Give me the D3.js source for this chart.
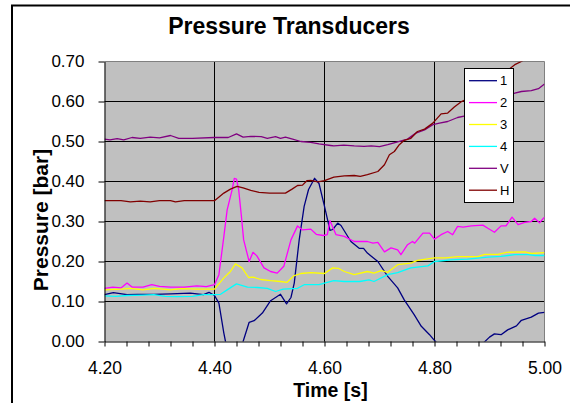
<!DOCTYPE html>
<html>
<head>
<meta charset="utf-8">
<script src="https://cdn.jsdelivr.net/npm/d3@7/dist/d3.min.js"></script>
<style>
  html, body { margin: 0; padding: 0; background: #fff; }
  svg { display: block; font-family: Arial, "Liberation Sans", sans-serif; }
</style>
</head>
<body>
<svg id="chart" width="570" height="403"></svg>
<script>
// Pressure readings (bar) against time (s) for each transducer
const seriesNames = ["1", "2", "3", "4", "V", "H"];
const seriesColors = ["#000080", "#FF00FF", "#FFFF00", "#00FFFF", "#800080", "#800000"];

const t1 = [4.200,4.216,4.241,4.260,4.290,4.320,4.356,4.380,4.390,4.400,4.408,4.417,4.420,4.430,4.440,4.452,4.463,4.472,4.487,4.502,4.520,4.531,4.539,4.545,4.554,4.563,4.571,4.582,4.590,4.600,4.610,4.615,4.624,4.630,4.648,4.663,4.671,4.678,4.697,4.715,4.733,4.745,4.763,4.776,4.791,4.799,4.802,4.830,4.860,4.888,4.900,4.909,4.921,4.933,4.949,4.958,4.976,4.989,5.000];
const p1 = [0.117,0.122,0.117,0.118,0.118,0.119,0.121,0.117,0.123,0.115,0.096,0.021,0.000,-0.040,-0.045,0.000,0.048,0.052,0.071,0.102,0.118,0.094,0.110,0.146,0.254,0.338,0.380,0.408,0.395,0.338,0.278,0.280,0.296,0.290,0.250,0.233,0.233,0.221,0.200,0.163,0.134,0.104,0.067,0.038,0.017,0.004,0.000,-0.050,-0.050,-0.005,0.011,0.019,0.017,0.029,0.039,0.053,0.061,0.071,0.073];

const t2 = [4.200,4.215,4.230,4.241,4.250,4.270,4.286,4.300,4.320,4.345,4.368,4.385,4.400,4.408,4.417,4.423,4.432,4.436,4.440,4.444,4.449,4.453,4.463,4.470,4.477,4.490,4.502,4.514,4.526,4.539,4.551,4.560,4.575,4.585,4.598,4.605,4.610,4.621,4.636,4.654,4.678,4.688,4.697,4.709,4.721,4.733,4.739,4.751,4.760,4.764,4.779,4.791,4.800,4.812,4.824,4.833,4.842,4.852,4.867,4.888,4.897,4.909,4.921,4.930,4.941,4.952,4.964,4.976,4.982,4.991,5.000];
const p2 = [0.133,0.136,0.134,0.146,0.136,0.136,0.142,0.138,0.136,0.136,0.139,0.137,0.142,0.167,0.262,0.329,0.379,0.408,0.406,0.379,0.312,0.254,0.200,0.223,0.214,0.184,0.175,0.171,0.188,0.254,0.289,0.279,0.281,0.268,0.265,0.267,0.302,0.267,0.263,0.250,0.250,0.246,0.248,0.224,0.234,0.229,0.217,0.242,0.250,0.246,0.271,0.271,0.256,0.267,0.275,0.267,0.288,0.286,0.289,0.291,0.283,0.273,0.289,0.289,0.311,0.292,0.298,0.300,0.308,0.297,0.311];

const t3 = [4.200,4.230,4.247,4.270,4.290,4.320,4.340,4.370,4.400,4.417,4.429,4.438,4.450,4.462,4.470,4.484,4.502,4.520,4.532,4.544,4.557,4.575,4.600,4.615,4.625,4.636,4.654,4.678,4.690,4.703,4.715,4.733,4.757,4.769,4.800,4.820,4.842,4.879,4.891,4.915,4.931,4.964,4.976,5.000];
const p3 = [0.129,0.131,0.133,0.129,0.133,0.129,0.132,0.131,0.131,0.159,0.175,0.194,0.184,0.160,0.161,0.155,0.152,0.150,0.148,0.164,0.170,0.172,0.170,0.184,0.183,0.175,0.167,0.175,0.171,0.177,0.173,0.192,0.196,0.203,0.209,0.209,0.212,0.212,0.218,0.218,0.223,0.224,0.220,0.222];

const t4 = [4.200,4.220,4.241,4.270,4.290,4.310,4.330,4.360,4.380,4.400,4.411,4.423,4.440,4.460,4.478,4.496,4.511,4.525,4.551,4.563,4.590,4.600,4.617,4.636,4.664,4.681,4.690,4.715,4.733,4.757,4.788,4.800,4.830,4.860,4.897,4.921,4.946,4.970,4.983,5.000];
const p4 = [0.114,0.113,0.115,0.116,0.117,0.113,0.112,0.113,0.117,0.117,0.118,0.129,0.144,0.136,0.135,0.133,0.125,0.131,0.133,0.142,0.142,0.146,0.152,0.150,0.150,0.154,0.150,0.167,0.172,0.184,0.189,0.200,0.204,0.206,0.211,0.213,0.217,0.217,0.215,0.215];

const tV = [4.200,4.210,4.223,4.235,4.250,4.265,4.283,4.300,4.320,4.335,4.360,4.399,4.425,4.440,4.452,4.466,4.485,4.496,4.511,4.520,4.529,4.542,4.557,4.575,4.590,4.611,4.617,4.635,4.654,4.672,4.685,4.700,4.715,4.733,4.751,4.766,4.782,4.797,4.809,4.824,4.842,4.856,4.880,4.905,4.925,4.946,4.958,4.976,4.989,5.000];
const pV = [0.506,0.504,0.507,0.504,0.510,0.508,0.511,0.509,0.515,0.508,0.508,0.510,0.510,0.519,0.511,0.513,0.512,0.508,0.512,0.508,0.511,0.506,0.500,0.498,0.494,0.490,0.489,0.491,0.489,0.488,0.489,0.487,0.492,0.499,0.506,0.521,0.529,0.542,0.546,0.550,0.560,0.564,0.578,0.595,0.610,0.621,0.625,0.627,0.632,0.644];

const tH = [4.200,4.230,4.247,4.265,4.283,4.300,4.320,4.329,4.345,4.400,4.417,4.429,4.441,4.452,4.466,4.481,4.500,4.529,4.541,4.551,4.560,4.568,4.575,4.588,4.600,4.617,4.636,4.654,4.665,4.678,4.697,4.709,4.718,4.727,4.736,4.745,4.757,4.769,4.782,4.797,4.812,4.824,4.836,4.848,4.856,4.880,4.910,4.930,4.946,4.958,4.980,5.000];
const pH = [0.352,0.352,0.349,0.351,0.349,0.352,0.352,0.349,0.352,0.352,0.371,0.381,0.388,0.384,0.378,0.373,0.371,0.371,0.381,0.390,0.391,0.402,0.403,0.399,0.402,0.411,0.414,0.415,0.413,0.417,0.425,0.442,0.467,0.475,0.492,0.503,0.508,0.525,0.531,0.546,0.569,0.571,0.586,0.599,0.604,0.625,0.655,0.675,0.692,0.700,0.720,0.740];

const yTicks = [0, 0.1, 0.2, 0.3, 0.4, 0.5, 0.6, 0.7];
const xMinorTicks = d3.range(0, 21).map(i => +(4.2 + i * 0.04).toFixed(2));
const xGrid = [4.4, 4.6, 4.8];
const yGrid = [0.1, 0.2, 0.3, 0.4, 0.5, 0.6];

const times = [t1, t2, t3, t4, tV, tH];
const pressures = [p1, p2, p3, p4, pV, pH];
const series = seriesNames.map((name, i) => ({
  name, color: seriesColors[i],
  values: times[i].map((t, j) => ({ t, p: pressures[i][j] }))
}));

const svg = d3.select("#chart");
const plot = { left: 104.5, right: 544.5, top: 61.5, bottom: 341.5 };

const x = d3.scaleLinear().domain([4.2, 5.0]).range([plot.left, plot.right]);
const y = d3.scaleLinear().domain([0, 0.7]).range([plot.bottom, plot.top]);

// outer chart frame
svg.append("rect")
  .attr("x", 12).attr("y", 5.5).attr("width", 620).attr("height", 460)
  .attr("fill", "none").attr("stroke", "#000").attr("stroke-width", 2);

// plot area
svg.append("rect")
  .attr("x", plot.left).attr("y", plot.top)
  .attr("width", plot.right - plot.left).attr("height", plot.bottom - plot.top)
  .attr("fill", "#C0C0C0");

svg.append("clipPath").attr("id", "plotClip")
  .append("rect")
  .attr("x", plot.left).attr("y", plot.top)
  .attr("width", plot.right - plot.left).attr("height", plot.bottom - plot.top);

// gridlines
const grid = svg.append("g").attr("stroke", "#000").attr("stroke-width", 1);
grid.selectAll("line.h").data(yGrid).join("line").attr("class", "h")
  .attr("x1", plot.left).attr("x2", plot.right)
  .attr("y1", d => y(d)).attr("y2", d => y(d));
grid.selectAll("line.v").data(xGrid).join("line").attr("class", "v")
  .attr("y1", plot.top).attr("y2", plot.bottom)
  .attr("x1", d => x(d)).attr("x2", d => x(d));

// plot frame (top and right edges)
svg.append("path")
  .attr("d", `M${plot.left},${plot.top}H${plot.right}V${plot.bottom}`)
  .attr("fill", "none").attr("stroke", "#808080").attr("stroke-width", 1);

// series
const line = d3.line().x(d => x(d.t)).y(d => y(d.p));
svg.append("g").attr("clip-path", "url(#plotClip)")
  .selectAll("path").data(series).join("path")
  .attr("d", d => line(d.values))
  .attr("fill", "none")
  .attr("stroke", d => d.color)
  .attr("stroke-width", 1.3)
  .attr("stroke-linejoin", "round");

// axes
const fmt = d3.format(".2f");
const yAxis = svg.append("g").attr("transform", `translate(${plot.left},0)`)
  .call(d3.axisLeft(y).tickValues(yTicks).tickFormat(fmt).tickSize(6).tickSizeOuter(0).tickPadding(14));
yAxis.selectAll("text").attr("font-size", 17).attr("fill", "#000");

const xAxis = svg.append("g").attr("transform", `translate(0,${plot.bottom})`)
  .call(d3.axisBottom(x).tickValues(xMinorTicks)
    .tickFormat((d, i) => i % 5 === 0 ? fmt(d) : "")
    .tickSize(5).tickSizeOuter(0).tickPadding(15.5));
xAxis.selectAll("text").attr("font-size", 17.5).attr("fill", "#000");

[yAxis, xAxis].forEach(g => {
  g.attr("font-family", null);
  g.selectAll(".domain").attr("stroke", "#000");
  g.selectAll(".tick line").attr("stroke", "#000");
});

// titles
svg.append("text")
  .attr("x", 289).attr("y", 34)
  .attr("text-anchor", "middle").attr("font-weight", "bold").attr("font-size", 23)
  .text("Pressure Transducers");

svg.append("text")
  .attr("transform", "translate(48,220) rotate(-90)")
  .attr("text-anchor", "middle").attr("font-weight", "bold").attr("font-size", 21)
  .text("Pressure [bar]");

svg.append("text")
  .attr("x", 330.5).attr("y", 397)
  .attr("text-anchor", "middle").attr("font-weight", "bold").attr("font-size", 19.5)
  .text("Time [s]");

// legend
const legend = svg.append("g");
legend.append("rect")
  .attr("x", 464.5).attr("y", 68.5).attr("width", 49).attr("height", 134)
  .attr("fill", "#fff").attr("stroke", "#000").attr("stroke-width", 1);
const items = legend.selectAll("g.item").data(series).join("g").attr("class", "item")
  .attr("transform", (d, i) => `translate(0,${80.7 + i * 21.9})`);
items.append("line")
  .attr("x1", 469).attr("x2", 497).attr("y1", 0).attr("y2", 0)
  .attr("stroke", d => d.color).attr("stroke-width", 1.3);
items.append("text")
  .attr("x", 500).attr("y", 0).attr("dy", "0.35em")
  .attr("font-size", 13)
  .text(d => d.name);
</script>
</body>
</html>
